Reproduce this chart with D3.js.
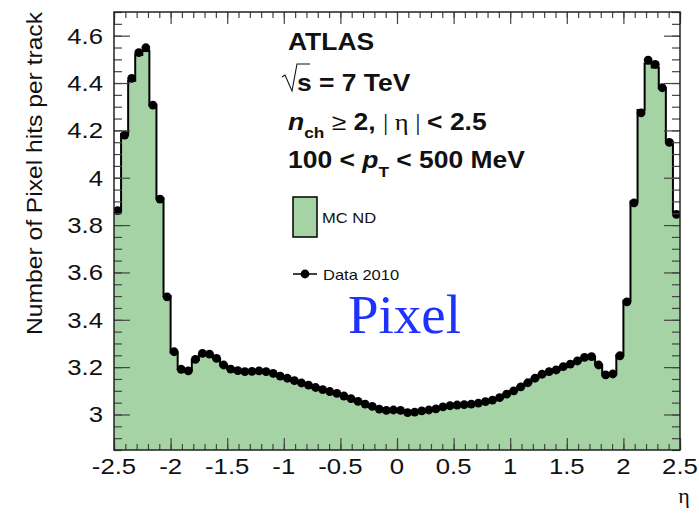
<!DOCTYPE html>
<html>
<head>
<meta charset="utf-8">
<script src="https://cdn.jsdelivr.net/npm/d3@7/dist/d3.min.js"></script>
<style>
  body { margin: 0; background: #fff; }
</style>
</head>
<body>
<div id="chart"></div>
<script>

// histogram binning: 80 bins of 0.0625 from -2.5 to 2.5
const binLow = -2.5;
const binWidth = 0.0625;

// Data 2010 (points), read per bin
const dataValues = [
    3.861, 4.180, 4.420, 4.528, 4.549, 4.307, 3.910, 3.497, 3.265, 3.191,
    3.184, 3.233, 3.258, 3.255, 3.237, 3.209, 3.192, 3.185, 3.181, 3.182,
    3.184, 3.181, 3.174, 3.162, 3.153, 3.143, 3.133, 3.124, 3.114, 3.105,
    3.097, 3.089, 3.078, 3.067, 3.055, 3.044, 3.034, 3.023, 3.017, 3.019,
    3.017, 3.008, 3.010, 3.015, 3.019, 3.024, 3.032, 3.037, 3.040, 3.042,
    3.044, 3.048, 3.054, 3.061, 3.071, 3.086, 3.100, 3.117, 3.134, 3.153,
    3.170, 3.181, 3.188, 3.202, 3.213, 3.226, 3.241, 3.244, 3.209, 3.167,
    3.171, 3.248, 3.476, 3.894, 4.274, 4.497, 4.479, 4.380, 4.149, 3.845
];

// MC ND (filled histogram)
const mcValues = [
    3.858, 4.185, 4.410, 4.518, 4.535, 4.305, 3.912, 3.500, 3.262, 3.192,
    3.186, 3.230, 3.255, 3.254, 3.236, 3.208, 3.192, 3.185, 3.181, 3.182,
    3.183, 3.181, 3.173, 3.162, 3.152, 3.143, 3.133, 3.123, 3.114, 3.105,
    3.096, 3.088, 3.078, 3.067, 3.055, 3.044, 3.034, 3.024, 3.018, 3.019,
    3.017, 3.009, 3.010, 3.015, 3.019, 3.024, 3.031, 3.037, 3.040, 3.042,
    3.044, 3.048, 3.054, 3.061, 3.071, 3.086, 3.100, 3.117, 3.134, 3.152,
    3.169, 3.181, 3.188, 3.201, 3.213, 3.226, 3.240, 3.242, 3.210, 3.168,
    3.172, 3.250, 3.480, 3.900, 4.286, 4.482, 4.466, 4.378, 4.150, 3.850
];

const yTickValues = [3, 3.2, 3.4, 3.6, 3.8, 4, 4.2, 4.4, 4.6];
const xTickValues = [-2.5, -2, -1.5, -1, -0.5, 0, 0.5, 1, 1.5, 2, 2.5];

const yTitle = "Number of Pixel hits per track";
const xTitle = "η";
const mcLabel = "MC ND";
const dataLabel = "Data 2010";

const W = 699, H = 521;
const plot = {left: 114, right: 680, top: 12, bottom: 450};
const fillGreen = "#a6d3a6";
const sansFont = "'Liberation Sans', Arial, Helvetica, sans-serif";
const serifFont = "'Liberation Serif', 'Times New Roman', serif";

const svg = d3.select("#chart").append("svg")
    .attr("width", W)
    .attr("height", H)
    .style("display", "block");

const x = d3.scaleLinear().domain([-2.5, 2.5]).range([plot.left, plot.right]);
const y = d3.scaleLinear().domain([2.85, 4.7]).range([plot.bottom, plot.top]);

// bins with low edge, plus a closing point at the last upper edge
function toBins(values) {
    let bins = values.map((v, i) => ({lo: binLow + i * binWidth, v: v}));
    bins.push({lo: binLow + values.length * binWidth, v: values[values.length - 1]});
    return bins;
}

svg.append("clipPath").attr("id", "plotClip")
    .append("rect")
    .attr("x", plot.left).attr("y", plot.top)
    .attr("width", plot.right - plot.left).attr("height", plot.bottom - plot.top);

const plotG = svg.append("g").attr("clip-path", "url(#plotClip)");

const mcBins = toBins(mcValues);

// filled MC histogram
plotG.append("path")
    .datum(mcBins)
    .attr("fill", fillGreen)
    .attr("d", d3.area()
        .curve(d3.curveStepAfter)
        .x(d => x(d.lo))
        .y0(y(2.85))
        .y1(d => y(d.v)));

// outline of the histogram
plotG.append("path")
    .datum(mcBins)
    .attr("fill", "none")
    .attr("stroke", "#000")
    .attr("stroke-width", 2)
    .attr("d", d3.line()
        .curve(d3.curveStepAfter)
        .x(d => x(d.lo))
        .y(d => y(d.v)));

// axes: ROOT-style ticks pointing inward on all four sides
function styleAxis(g) {
    g.select(".domain").remove();
    g.selectAll(".tick line").attr("stroke", "#444").attr("stroke-width", 1.2);
    g.selectAll(".tick text").remove();
}

const yMinor = d3.range(0, 38).map(k => 2.85 + k * 0.05);
const xMinor = d3.range(0, 51).map(k => -2.5 + k * 0.1);

svg.append("g").attr("transform", `translate(${plot.left},0)`)
    .call(d3.axisLeft(y).tickValues(yMinor).tickSize(-8)).call(styleAxis);
svg.append("g").attr("transform", `translate(${plot.left},0)`)
    .call(d3.axisLeft(y).tickValues(yTickValues).tickSize(-16)).call(styleAxis);
svg.append("g").attr("transform", `translate(${plot.right},0)`)
    .call(d3.axisRight(y).tickValues(yMinor).tickSize(-8)).call(styleAxis);
svg.append("g").attr("transform", `translate(${plot.right},0)`)
    .call(d3.axisRight(y).tickValues(yTickValues).tickSize(-16)).call(styleAxis);

svg.append("g").attr("transform", `translate(0,${plot.bottom})`)
    .call(d3.axisBottom(x).tickValues(xMinor).tickSize(-6)).call(styleAxis);
svg.append("g").attr("transform", `translate(0,${plot.bottom})`)
    .call(d3.axisBottom(x).tickValues(xTickValues).tickSize(-12)).call(styleAxis);
svg.append("g").attr("transform", `translate(0,${plot.top})`)
    .call(d3.axisTop(x).tickValues(xMinor).tickSize(-6)).call(styleAxis);
svg.append("g").attr("transform", `translate(0,${plot.top})`)
    .call(d3.axisTop(x).tickValues(xTickValues).tickSize(-12)).call(styleAxis);

// data points
plotG.selectAll(".pt")
    .data(dataValues)
    .enter()
    .append("circle")
    .attr("class", "pt")
    .attr("cx", (d, i) => x(binLow + (i + 0.5) * binWidth))
    .attr("cy", d => y(d))
    .attr("r", 4.4)
    .attr("fill", "#000");

// frame
svg.append("rect")
    .attr("x", plot.left).attr("y", plot.top)
    .attr("width", plot.right - plot.left).attr("height", plot.bottom - plot.top)
    .attr("fill", "none")
    .attr("stroke", "#222")
    .attr("stroke-width", 1.5);

// text that is a little wider than the installed sans fonts
function wideText(x0, y0, sx) {
    return svg.append("g")
        .attr("transform", `translate(${x0},${y0}) scale(${sx},1)`)
        .append("text")
        .attr("x", 0).attr("y", 0)
        .attr("font-family", sansFont)
        .attr("fill", "#111");
}

// plain hyphen minus like the original
const tickFmt = v => String(v);

// tick labels
yTickValues.forEach(v => {
    wideText(103, y(v), 1.17)
        .attr("text-anchor", "end")
        .attr("dy", "0.36em")
        .attr("font-size", "22px")
        .text(tickFmt(v));
});
xTickValues.forEach(v => {
    wideText(x(v), 474, 1.17)
        .attr("text-anchor", "middle")
        .attr("font-size", "22px")
        .text(tickFmt(v));
});

// axis titles
svg.append("text")
    .attr("transform", "translate(42,12) rotate(-90) scale(1.12,1)")
    .attr("text-anchor", "end")
    .attr("font-family", sansFont)
    .attr("font-size", "22px")
    .attr("fill", "#111")
    .text(yTitle);

svg.append("text")
    .attr("x", 684).attr("y", 503)
    .attr("text-anchor", "middle")
    .attr("font-family", serifFont)
    .attr("font-size", "22px")
    .attr("fill", "#111")
    .text(xTitle);

// ATLAS label block
wideText(288, 50, 1.15)
    .attr("font-size", "23px").attr("font-weight", "bold")
    .text("ATLAS");

svg.append("path")
    .attr("d", "M282,77 L285,75 L292,91 L297,64 L310,64")
    .attr("fill", "none")
    .attr("stroke", "#111")
    .attr("stroke-width", 1.1);
wideText(297, 91, 1.15)
    .attr("font-size", "23px").attr("font-weight", "bold")
    .text("s = 7 TeV");

let t3 = wideText(288, 130, 1.15).attr("font-size", "23px").attr("font-weight", "bold");
t3.append("tspan").attr("font-style", "italic").text("n");
t3.append("tspan").attr("font-size", "15px").attr("dy", 8).text("ch");
t3.append("tspan").attr("dy", -8).attr("font-weight", "normal").text(" ≥ ");
t3.append("tspan").text("2, ");
t3.append("tspan").attr("font-weight", "normal").attr("font-family", serifFont).text("| η | ");
t3.append("tspan").text("< 2.5");

let t4 = wideText(288, 168, 1.15).attr("font-size", "23px").attr("font-weight", "bold");
t4.append("tspan").text("100 < ");
t4.append("tspan").attr("font-style", "italic").text("p");
t4.append("tspan").attr("font-size", "15px").attr("dy", 9).text("T");
t4.append("tspan").attr("dy", -9).text(" < 500 MeV");

// legend
svg.append("rect")
    .attr("x", 293).attr("y", 197)
    .attr("width", 24).attr("height", 40)
    .attr("fill", fillGreen)
    .attr("stroke", "#000")
    .attr("stroke-width", 1.5);
wideText(322, 223, 1.18).attr("font-size", "14px").text(mcLabel);

svg.append("line")
    .attr("x1", 293).attr("x2", 317)
    .attr("y1", 274).attr("y2", 274)
    .attr("stroke", "#000").attr("stroke-width", 1.5);
svg.append("circle")
    .attr("cx", 305).attr("cy", 274).attr("r", 4.4).attr("fill", "#000");
wideText(323, 280, 1.18).attr("font-size", "14px").text(dataLabel);

// overlay label
svg.append("text")
    .attr("x", 348).attr("y", 333)
    .attr("font-family", serifFont)
    .attr("font-size", "55px")
    .attr("fill", "#1e32ff")
    .text("Pixel");

</script>
</body>
</html>
